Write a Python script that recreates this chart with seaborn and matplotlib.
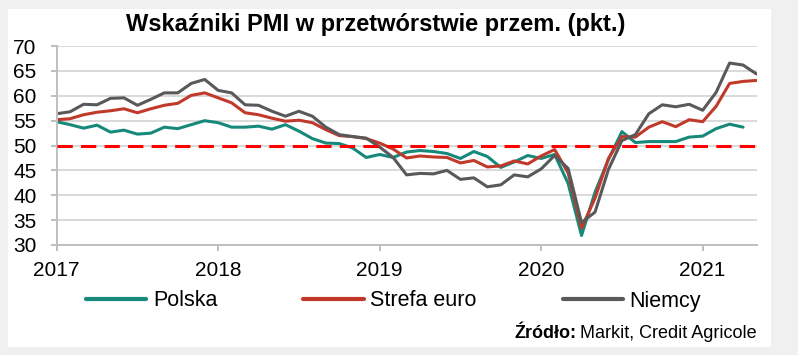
#!/usr/bin/env python3
# -*- coding: utf-8 -*-

"""
Wskazniki PMI w przetworstwie przemyslowym: Polska, strefa euro, Niemcy.
Dane miesieczne od 01.2017.
"""

import numpy as np
import pandas as pd
import matplotlib

matplotlib.use("Agg")
import matplotlib.pyplot as plt
import seaborn as sns
from matplotlib.patches import Rectangle


# ==========================================================
# Data (monthly, starting January 2017)
# ==========================================================

START_YEAR = 2017

POLSKA = [
    54.8, 54.2, 53.5, 54.1, 52.7, 53.1, 52.3, 52.5, 53.7, 53.4, 54.2, 55.0,
    54.6, 53.7, 53.7, 53.9, 53.3, 54.2, 52.9, 51.4, 50.5, 50.4, 49.5, 47.6,
    48.2, 47.6, 48.7, 49.0, 48.8, 48.4, 47.4, 48.8, 47.8, 45.6, 46.7, 48.0,
    47.4, 48.2, 42.4, 31.9, 40.6, 47.2, 52.8, 50.6, 50.8, 50.8, 50.8, 51.7,
    51.9, 53.4, 54.3, 53.7,
]

STREFA_EURO = [
    55.2, 55.4, 56.2, 56.7, 57.0, 57.4, 56.6, 57.4, 58.1, 58.5, 60.1, 60.6,
    59.6, 58.6, 56.6, 56.2, 55.5, 54.9, 55.1, 54.6, 53.2, 52.0, 51.8, 51.4,
    50.5, 49.3, 47.5, 47.9, 47.7, 47.6, 46.5, 47.0, 45.7, 45.9, 46.9, 46.3,
    47.9, 49.2, 44.5, 33.4, 39.4, 47.4, 51.8, 51.7, 53.7, 54.8, 53.8, 55.2,
    54.8, 57.9, 62.5, 62.9, 63.1,
]

NIEMCY = [
    56.4, 56.8, 58.3, 58.2, 59.5, 59.6, 58.1, 59.3, 60.6, 60.6, 62.5, 63.3,
    61.1, 60.6, 58.2, 58.1, 56.9, 55.9, 56.9, 55.9, 53.7, 52.2, 51.8, 51.5,
    49.7, 47.6, 44.1, 44.4, 44.3, 45.0, 43.2, 43.5, 41.7, 42.1, 44.1, 43.7,
    45.3, 48.0, 45.4, 34.5, 36.6, 45.2, 51.0, 52.2, 56.4, 58.2, 57.8, 58.3,
    57.1, 60.7, 66.6, 66.2, 64.4,
]

SERIES_NAMES = ["Polska", "Strefa euro", "Niemcy"]
SERIES_COLORS = ["#16897b", "#c0392b", "#595959"]

YEAR_TICKS = [2017, 2018, 2019, 2020, 2021]
Y_TICKS = [30, 35, 40, 45, 50, 55, 60, 65, 70]
THRESHOLD = 50

TITLE = "Wskaźniki PMI w przetwórstwie przem. (pkt.)"
SOURCE_BOLD = "Źródło:"
SOURCE_TEXT = "Markit, Credit Agricole"


# ==========================================================
# Build long-format table
# ==========================================================

def build_frame():
    frames = []
    for name, values in zip(SERIES_NAMES, [POLSKA, STREFA_EURO, NIEMCY]):
        months = np.arange(len(values))
        frames.append(pd.DataFrame({
            "czas": START_YEAR + months / 12.0,
            "pmi": values,
            "seria": name,
        }))
    return pd.concat(frames, ignore_index=True)


def main():
    df = build_frame()

    sns.set_theme(style="white")
    plt.rcParams["font.family"] = ["Liberation Sans", "DejaVu Sans"]
    plt.rcParams["text.color"] = "black"

    fig = plt.figure(figsize=(7.98, 3.55), dpi=100, facecolor="#f0f0f0")
    fig.patches.append(Rectangle(
        (8 / 798, 1 - 347 / 355), 763 / 798, 338 / 355,
        transform=fig.transFigure, facecolor="white", edgecolor="none",
        zorder=-10,
    ))

    ax = fig.add_axes([0.071, 0.310, 0.877, 0.560])
    ax.set_zorder(2)
    ax.set_facecolor("none")

    sns.lineplot(
        data=df, x="czas", y="pmi", hue="seria",
        hue_order=SERIES_NAMES, palette=SERIES_COLORS,
        linewidth=2.2, ax=ax, legend=False,
    )

    ax.axhline(THRESHOLD, color="#ff0000", linewidth=2.2,
               dashes=(5, 2.7), zorder=5)

    n_months = max(len(POLSKA), len(STREFA_EURO), len(NIEMCY)) - 1
    ax.set_xlim(START_YEAR, START_YEAR + n_months / 12.0)
    ax.set_ylim(30, 70)
    ax.set_xticks(YEAR_TICKS)
    ax.set_xticklabels([str(y) for y in YEAR_TICKS])
    ax.set_yticks(Y_TICKS)
    ax.set_xlabel("")
    ax.set_ylabel("")

    ax.yaxis.grid(True, color="#d9d9d9", linewidth=1.4)
    ax.set_axisbelow(True)

    for side in ["top", "right"]:
        ax.spines[side].set_visible(False)
    for side in ["left", "bottom"]:
        ax.spines[side].set_color("#bfbfbf")
        ax.spines[side].set_linewidth(1.4)

    ax.tick_params(axis="y", left=True, length=4.5, width=1.4,
                   color="#bfbfbf", pad=10, labelsize=15, labelcolor="black")
    ax.tick_params(axis="x", bottom=True, length=4.5, width=1.4,
                   color="#bfbfbf", pad=7, labelsize=15, labelcolor="black")

    # legend
    handles = [
        plt.Line2D([0], [0], color=c, linewidth=3) for c in SERIES_COLORS
    ]
    leg = fig.legend(
        handles, SERIES_NAMES,
        loc="center", bbox_to_anchor=(0.493, 1 - 301 / 355),
        ncol=3, frameon=False, fontsize=15.5,
        handlelength=2.8, handletextpad=0.3, columnspacing=4.0,
    )
    for text in leg.get_texts():
        text.set_color("black")

    fig.text(376 / 798, 1 - 24 / 355, TITLE, ha="center", va="center",
             fontsize=17, fontweight="bold", color="black")

    src = fig.text(757 / 798, 1 - 333 / 355, SOURCE_TEXT, ha="right",
                   va="center", fontsize=13, color="black")
    fig.canvas.draw()
    bbox = src.get_window_extent()
    fig.text((bbox.x0 - 4) / 798, 1 - 333 / 355, SOURCE_BOLD, ha="right",
             va="center", fontsize=13, fontweight="bold", color="black")

    fig.savefig("out.png", dpi=100, facecolor=fig.get_facecolor())
    plt.close(fig)


if __name__ == "__main__":
    main()
